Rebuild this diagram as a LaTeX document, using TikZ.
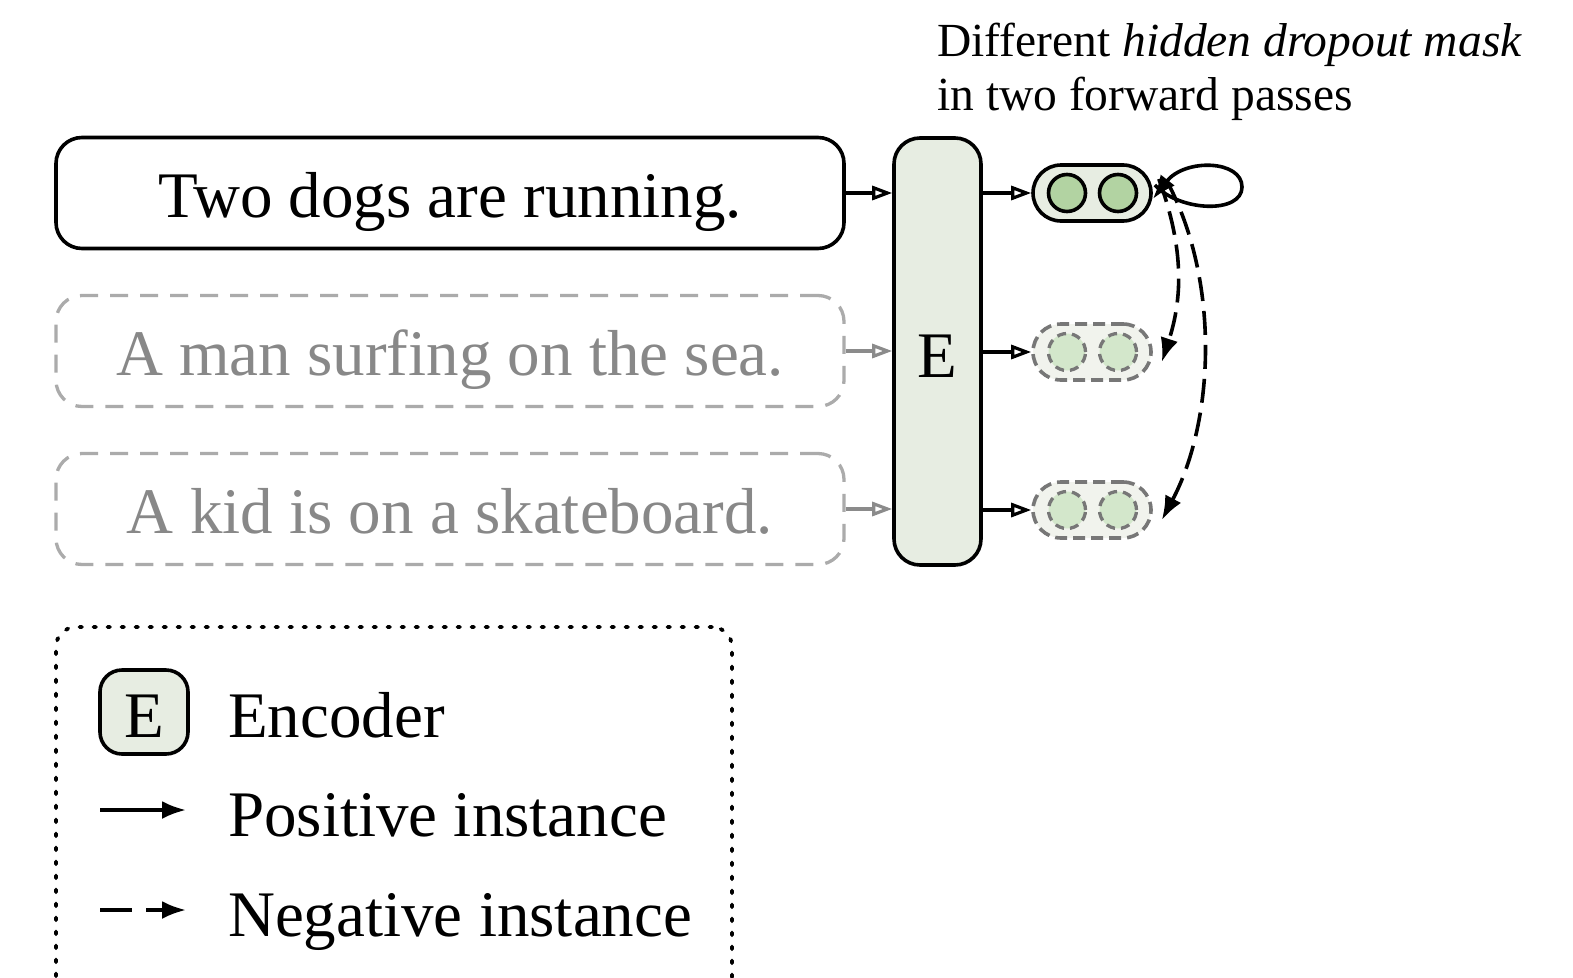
\documentclass[tikz,border=0pt]{standalone}
\usepackage{fontspec}
\setmainfont{Liberation Serif}
\usetikzlibrary{arrows.meta}

\definecolor{encfill}{HTML}{E7EDE2}
\definecolor{dotfill}{HTML}{B2D3A2}
\definecolor{negfill}{HTML}{F1F3ED}
\definecolor{negdot}{HTML}{D3E7CB}
\definecolor{negline}{HTML}{777777}
\definecolor{sentgray}{HTML}{888888}
\definecolor{boxgray}{HTML}{ABABAB}

\tikzset{
  bigfont/.style={font=\fontsize{65}{72}\selectfont},
  capfont/.style={font=\fontsize{47.5}{55}\selectfont},
  sentence/.style={draw, rounded corners=26, line width=3.6, minimum width=788,
    minimum height=111, bigfont, inner sep=0, text height=48pt, text depth=0pt},
  negsentence/.style={sentence, draw=boxgray, line width=3.3,
    dash pattern=on 18 off 12, text=sentgray},
  encoder/.style={draw, fill=encfill, rounded corners=26, line width=3.6,
    minimum width=87, minimum height=427, bigfont, inner sep=0,
    text height=51pt, text depth=0pt},
  rep/.style={draw, fill=encfill, rounded corners=28, line width=3.6,
    minimum width=118, minimum height=56, inner sep=0},
  negrep/.style={rep, draw=negline, fill=negfill, dash pattern=on 12 off 6},
  unit/.style={circle, draw, fill=dotfill, line width=3.6, minimum size=37, inner sep=0},
  negunit/.style={unit, draw=negline, fill=negdot, line width=3.3, dash pattern=on 9 off 6},
  feed/.style={line width=3.2, -{Triangle[open, length=20, width=14]}},
  negfeed/.style={feed, draw=negline!85},
  posarrow/.style={line width=3.6, -{Latex[length=24, width=18]}},
  negarrow/.style={posarrow, dash pattern=on 24 off 10},
  txt/.style={inner sep=0, anchor=base west},
}

\begin{document}
\begin{tikzpicture}[x=1pt, y=-1pt]
\useasboundingbox (0,0) rectangle (1573,977);
\clip (0,0) rectangle (1573,977);

% sentences
\node[sentence]    (s1) at (450,193) {Two dogs are running.};
\node[negsentence] (s2) at (450,351) {A man surfing on the sea.};
\node[negsentence] (s3) at (450,509) {A kid is on a skateboard.};

% encoder
\node[encoder] (enc) at (937.5,351.5) {E};

% sentence representations
\node[rep]    (r1) at (1092,193) {};
\node[negrep] (r2) at (1092,352) {};
\node[negrep] (r3) at (1092,510) {};
\node[unit]    (r1a) at (1067,193) {};
\node[unit]    (r1b) at (1118,193) {};
\node[negunit] (r2a) at (1067,352) {};
\node[negunit] (r2b) at (1118,352) {};
\node[negunit] (r3a) at (1067,510) {};
\node[negunit] (r3b) at (1118,510) {};

% inputs into the encoder
\draw[feed]    (s1.east) -- (s1.east -| enc.west);
\draw[negfeed] (s2.east) -- (s2.east -| enc.west);
\draw[negfeed] (s3.east) -- (s3.east -| enc.west);

% encoder outputs
\draw[feed] (enc.east |- r1.west) -- (r1.west);
\draw[feed] (enc.east |- r2.west) -- (r2.west);
\draw[feed] (enc.east |- r3.west) -- (r3.west);

% positive pair: same sentence, two dropout masks
\coordinate (la) at ([yshift=-6]r1.east);
\coordinate (lb) at ([xshift=2,yshift=8]r1.east);
\draw[posarrow] (lb) .. controls (1180,212) and (1242,214) .. (1242,187)
                    .. controls (1242,160) and (1185,158) .. (la);

% negatives: other sentences in the batch
\coordinate (na) at ([xshift=6,yshift=14]r1.east);
\coordinate (nb) at ([xshift=14,yshift=12]r1.east);
\coordinate (ta) at ([xshift=9,yshift=-10]r2.east);
\coordinate (tb) at ([xshift=9,yshift=-10]r3.east);
\draw[negarrow] (na) .. controls (1185,250) and (1182,300) .. (ta);
\draw[negarrow] (nb) .. controls (1220,280) and (1215,420) .. (tb);

% caption above the representations
\begin{scope}
\clip (0,0) rectangle (1524,977);
\node[txt, capfont] (cap1) at (937,56) {Different \textit{hidden dropout mask}};
\node[txt, capfont] (cap2) at (937,110) {in two forward passes};
\end{scope}

% legend
\node[draw, line width=3.8, dash pattern=on 2.5 off 11.5, line cap=round,
      rounded corners=20, minimum width=676, minimum height=390, inner sep=0]
      (legend) at (394,822) {};
\node[draw, fill=encfill, rounded corners=22, line width=3.6, minimum width=88,
      minimum height=84, inner sep=0, bigfont, text height=50pt, text depth=0pt]
      (legE) at (144,712) {E};
\node[txt, bigfont] (legEtxt) at (228,737) {Encoder};
\coordinate (pa) at (100,810);
\coordinate (pb) at (186,810);
\draw[posarrow] (pa) -- (pb);
\node[txt, bigfont] (legPos) at (228,836) {Positive instance};
\coordinate (qa) at (100,910);
\coordinate (qb) at (186,910);
\draw[negarrow, dash pattern=on 32 off 14] (qa) -- (qb);
\node[txt, bigfont] (legNeg) at (228,936) {Negative instance};
\end{tikzpicture}
\end{document}
